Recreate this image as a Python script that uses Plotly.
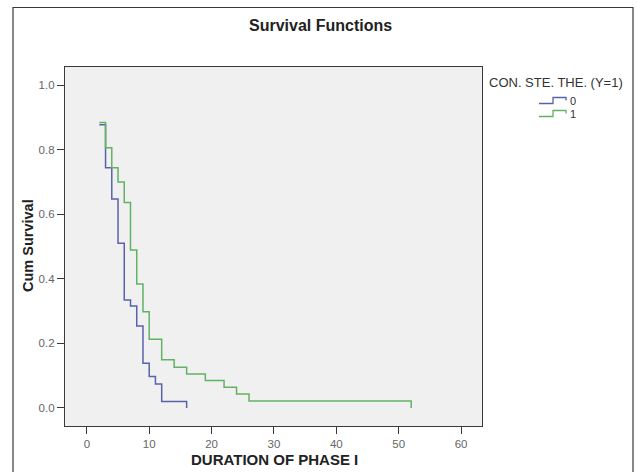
import plotly.graph_objects as go

# ---- data ----
time_0 = [2, 3, 4, 5, 6, 7, 8, 9, 10, 11, 12, 16]
surv_0 = [0.877, 0.744, 0.647, 0.51, 0.334, 0.316, 0.254, 0.138, 0.097, 0.074, 0.02, 0.0]

time_1 = [2, 3, 4, 5, 6, 7, 8, 9, 10, 12, 14, 16, 19, 22, 24, 26, 52]
surv_1 = [0.884, 0.806, 0.744, 0.70, 0.636, 0.489, 0.384, 0.298, 0.213, 0.149,
          0.126, 0.105, 0.085, 0.064, 0.043, 0.0217, 0.0]

group_labels = ["0", "1"]
x_ticks = [0, 10, 20, 30, 40, 50, 60]
y_ticks = [0.0, 0.2, 0.4, 0.6, 0.8, 1.0]

# ---- layout geometry ----
W, H = 637, 472
L, R, T, B = 65, 155, 67, 46
PW, PH = W - L - R, H - T - B

def px(x):
    return (x - L) / PW

def py(y):
    return (H - B - y) / PH

BLUE = "#5a62ab"
GREEN = "#62b263"
FONT = "Arial, Liberation Sans, sans-serif"

fig = go.Figure()
fig.add_trace(go.Scatter(x=time_0, y=surv_0, mode="lines", line=dict(shape="hv", color=BLUE, width=1.5),
                         name=group_labels[0], showlegend=False))
fig.add_trace(go.Scatter(x=time_1, y=surv_1, mode="lines", line=dict(shape="hv", color=GREEN, width=1.5),
                         name=group_labels[1], showlegend=False))

axis_common = dict(showgrid=False, zeroline=False, showline=True, mirror=True,
                   linecolor="#3a3a3a", linewidth=1.2, ticks="outside", ticklen=7,
                   tickcolor="#3a3a3a", tickwidth=1.2,
                   tickfont=dict(family=FONT, size=11.5, color="#666666"))

fig.update_xaxes(range=[-3.5, 63.35], tickvals=x_ticks, **axis_common)
fig.update_yaxes(range=[-0.056, 1.056], tickvals=y_ticks, tickformat=".1f", **axis_common)

shapes = []
# outer frame
shapes.append(dict(type="path", xref="paper", yref="paper",
                   path=f"M {px(13)},{py(480)} L {px(13)},{py(7.5)} L {px(633)},{py(7.5)} L {px(633)},{py(480)}",
                   line=dict(color="#3a3a3a", width=1.2)))
# legend step icons
for yy, col in [(100.5, BLUE), (113.5, GREEN)]:
    shapes.append(dict(type="path", xref="paper", yref="paper",
                       path=(f"M {px(539)},{py(yy+3)} L {px(553)},{py(yy+3)} L {px(553)},{py(yy-3)} "
                             f"L {px(566)},{py(yy-3)} L {px(566)},{py(yy)}"),
                       line=dict(color=col, width=1.3)))

annotations = [
    dict(text="<b>Survival Functions</b>", x=px(320), y=py(26), xref="paper", yref="paper",
         showarrow=False, font=dict(family=FONT, size=16, color="#222"), xanchor="center", yanchor="middle"),
    dict(text="<b>Cum Survival</b>", x=px(28), y=py(246), xref="paper", yref="paper", textangle=-90,
         showarrow=False, font=dict(family=FONT, size=14.5, color="#222"), xanchor="center", yanchor="middle"),
    dict(text="<b>DURATION OF PHASE I</b>", x=px(274), y=py(459), xref="paper", yref="paper",
         showarrow=False, font=dict(family=FONT, size=15, color="#222"), xanchor="center", yanchor="middle"),
    dict(text="CON. STE. THE. (Y=1)", x=px(487), y=py(82), xref="paper", yref="paper",
         showarrow=False, font=dict(family=FONT, size=13, color="#333"), xanchor="left", yanchor="middle"),
]
for lab, yy in zip(group_labels, [100.5, 113.5]):
    annotations.append(dict(text=lab, x=px(568), y=py(yy), xref="paper", yref="paper", showarrow=False,
                            font=dict(family=FONT, size=11, color="#333"), xanchor="left", yanchor="middle",
                            height=12))

fig.update_layout(width=W, height=H, margin=dict(l=L, r=R, t=T, b=B, autoexpand=False),
                  paper_bgcolor="white", plot_bgcolor="#f0f0f0",
                  shapes=shapes, annotations=annotations, showlegend=False)

fig.write_html("out.html")
